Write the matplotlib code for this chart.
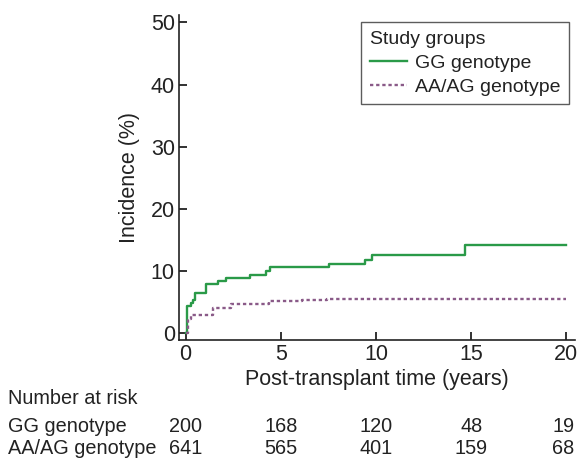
import matplotlib
matplotlib.use("Agg")
import matplotlib.pyplot as plt
import matplotlib.transforms as mtransforms

plt.rcParams['font.family'] = ['Liberation Sans', 'DejaVu Sans']

# Data (step functions: time in years, cumulative incidence in %)
gg_time = [0.0, 0.08, 0.26, 0.37, 0.5, 1.06, 1.7, 2.1, 3.37, 4.2, 4.42, 7.54, 9.4, 9.8, 14.67, 20.0]
gg_inc = [0.0, 4.35, 4.8, 5.3, 6.45, 7.85, 8.4, 8.9, 9.4, 9.95, 10.55, 11.1, 11.7, 12.5, 14.1, 14.1]
aa_time = [0.0, 0.14, 0.3, 1.44, 2.4, 4.4, 6.1, 7.4, 20.0]
aa_inc = [0.0, 2.2, 2.85, 4.0, 4.6, 5.1, 5.3, 5.5, 5.5]

risk_times = [0, 5, 10, 15, 20]
risk_gg = [200, 168, 120, 48, 19]
risk_aa = [641, 565, 401, 159, 68]
series_names = ['GG genotype', 'AA/AG genotype']

x_ticks = [0, 5, 10, 15, 20]
y_ticks = [0, 10, 20, 30, 40, 50]

TXT = '#222222'
fig = plt.figure(figsize=(5.79, 4.59), dpi=100)
ax = fig.add_axes([179/579, 1 - 339.5/459, (575 - 179)/579, (339.5 - 15)/459])

ax.step(gg_time, gg_inc, where='post', color='#2a9a48', lw=1.7, label=series_names[0])
ax.step(aa_time, aa_inc, where='post', color='#8a5a88', lw=1.7, ls=(0, (1.4, 1.2)),
        label=series_names[1])

ax.set_xlim(-0.35, 20.45)
ax.set_ylim(-1.07, 51.2)
ax.set_xticks(x_ticks)
ax.set_yticks(y_ticks)
ax.tick_params(direction='in', length=5.5, width=1.3, labelsize=15.5, pad=3, colors=TXT)
for s in ['top', 'right']:
    ax.spines[s].set_visible(False)
for s in ['left', 'bottom']:
    ax.spines[s].set_linewidth(1.2)
    ax.spines[s].set_color(TXT)

ax.set_xlabel('Post-transplant time (years)', fontsize=15.5, labelpad=3, color=TXT)
ax.set_ylabel('Incidence (%)', fontsize=15.5, labelpad=8, color=TXT)

leg = ax.legend(title='Study groups', loc='upper right', bbox_to_anchor=(0.985, 0.978),
                fontsize=14, title_fontsize=14, frameon=True, fancybox=False,
                edgecolor='#333333', handlelength=1.9, handletextpad=0.4,
                borderpad=0.45, labelspacing=0.32, borderaxespad=0.0)
leg._legend_box.align = 'left'
leg.get_title().set_color(TXT)
for t in leg.get_texts():
    t.set_color(TXT)
leg.get_frame().set_linewidth(1.0)

# Number at risk table
trans = mtransforms.blended_transform_factory(ax.transData, fig.transFigure)
fs = 14.3
fig.text(8/579, 1 - 399/459, 'Number at risk', fontsize=fs, va='center', ha='left', color=TXT)
fig.text(8/579, 1 - 427/459, series_names[0], fontsize=fs, va='center', ha='left', color=TXT)
fig.text(8/579, 1 - 449/459, series_names[1], fontsize=fs, va='center', ha='left', color=TXT)
for t, g, a in zip(risk_times, risk_gg, risk_aa):
    dx = -0.15 if t == 20 else 0
    ax.text(t + dx, 1 - 427/459, str(g), transform=trans, fontsize=fs, va='center', ha='center', color=TXT)
    ax.text(t + dx, 1 - 449/459, str(a), transform=trans, fontsize=fs, va='center', ha='center', color=TXT)

fig.savefig('out.png', dpi=100)
